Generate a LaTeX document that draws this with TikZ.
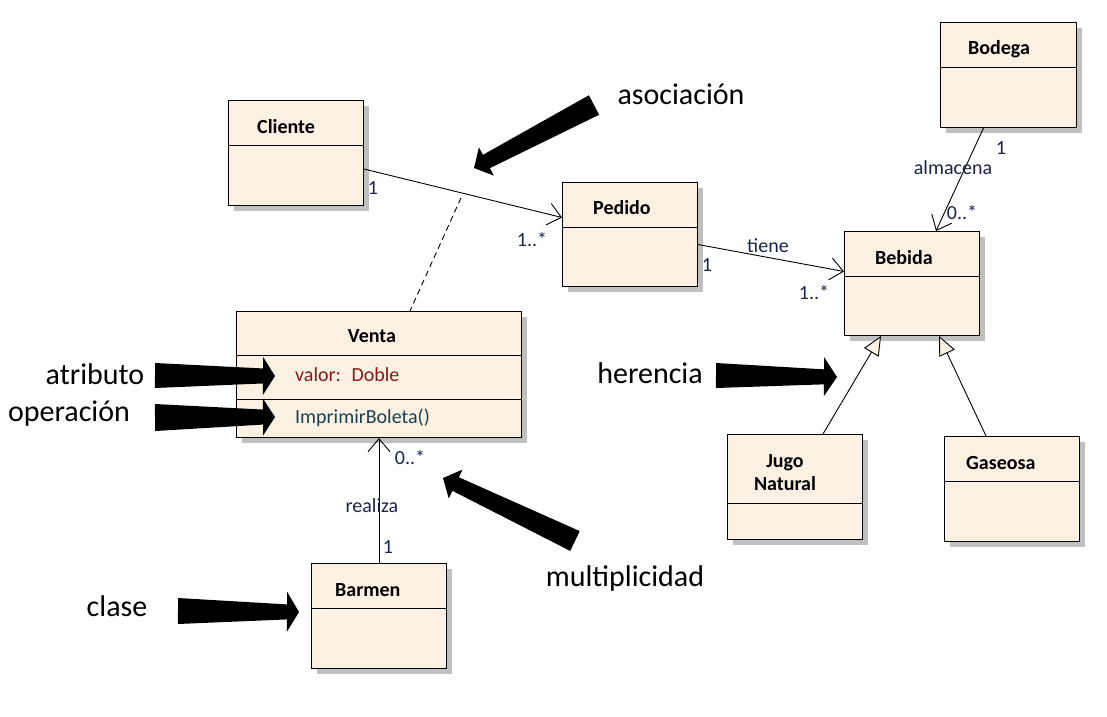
\documentclass[tikz,border=0pt]{standalone}
\usepackage{fontspec}
\setmainfont{Carlito}
\usetikzlibrary{arrows.meta, positioning, calc, shadows}

\definecolor{umlfill}{RGB}{251,241,227}
\definecolor{umlshadow}{RGB}{192,192,192}
\definecolor{umltext}{RGB}{25,35,75}
\definecolor{attrred}{RGB}{135,25,25}
\definecolor{opteal}{RGB}{25,65,80}

% fat black pointer: tail, tip, tail half width, head half width, head length
\newcommand{\fatarrow}[5]{%
  \coordinate (#1-neck) at ($(#2)!#5!(#1)$);
  \fill[black] ($(#1)!#3!90:(#2)$) -- ($(#1-neck)!7.5pt!90:(#2)$) -- ($(#1-neck)!#4!90:(#2)$)
    -- (#2) -- ($(#1-neck)!#4!-90:(#2)$) -- ($(#1-neck)!7.5pt!-90:(#2)$) -- ($(#1)!#3!-90:(#2)$) -- cycle;}

\begin{document}
\begin{tikzpicture}[x=1pt, y=-1pt,
      umlclass/.style={draw=black, line width=1pt, fill=umlfill, minimum width=135pt, minimum height=105pt, anchor=north west, inner sep=0pt,
        drop shadow={shadow xshift=5pt, shadow yshift=-5pt, fill=umlshadow, opacity=1}},
      classname/.style={font=\fontsize{20}{23}\selectfont\bfseries, anchor=west, inner sep=0pt},
      member/.style={font=\fontsize{20}{23}\selectfont, anchor=west, inner sep=0pt},
      mult/.style={font=\fontsize{20}{23}\selectfont, text=umltext, inner sep=0pt},
      callout/.style={font=\fontsize{30}{36}\selectfont, inner sep=0pt},
      divider/.style={line width=1pt},
      assoc/.style={line width=0.9pt, -{Straight Barb[length=13pt, width=22pt]}},
      inherit/.style={line width=0.9pt, -{Triangle[length=19pt, width=17pt, fill=umlfill]}}
    ]
      \useasboundingbox (0,0) rectangle (1107,716);

      % Classes
      \node[umlclass] (cliente) at (228,100) {};
      \node[classname] (clienteName) at (257,127) {Cliente};
      \draw[divider] ([yshift=-45pt]cliente.north west) -- ([yshift=-45pt]cliente.north east);

      \node[umlclass, minimum width=136pt] (bodega) at (940,22) {};
      \node[classname] (bodegaName) at (968,49) {Bodega};
      \draw[divider] ([yshift=-45pt]bodega.north west) -- ([yshift=-45pt]bodega.north east);

      \node[umlclass, minimum height=104pt] (pedido) at (562,182) {};
      \node[classname] (pedidoName) at (593,208) {Pedido};
      \draw[divider] ([yshift=-45pt]pedido.north west) -- ([yshift=-45pt]pedido.north east);

      \node[umlclass, minimum height=104pt] (bebida) at (844,231) {};
      \node[classname] (bebidaName) at (875,258) {Bebida};
      \draw[divider] ([yshift=-45pt]bebida.north west) -- ([yshift=-45pt]bebida.north east);

      \node[umlclass, minimum width=285pt, minimum height=126pt] (venta) at (236,311) {};
      \node[classname, anchor=center] (ventaName) at (372,336) {Venta};
      \draw[divider] ([yshift=-44pt]venta.north west) -- ([yshift=-44pt]venta.north east);
      \draw[divider] ([yshift=-88pt]venta.north west) -- ([yshift=-88pt]venta.north east);
      \node[member, text=attrred] (ventaAttr) at (295,375) {valor:~ Doble};
      \node[member, text=opteal] (ventaOp) at (295,418) {ImprimirBoleta()};

      \node[umlclass] (jugo) at (727,434) {};
      \node[classname, anchor=center, align=center] (jugoName) at (785,473) {Jugo\\Natural};
      \draw[divider] ([yshift=-69pt]jugo.north west) -- ([yshift=-69pt]jugo.north east);

      \node[umlclass] (gaseosa) at (944,436) {};
      \node[classname] (gaseosaName) at (966,463) {Gaseosa};
      \draw[divider] ([yshift=-45pt]gaseosa.north west) -- ([yshift=-45pt]gaseosa.north east);

      \node[umlclass] (barmen) at (311,563) {};
      \node[classname] (barmenName) at (335,590) {Barmen};
      \draw[divider] ([yshift=-45pt]barmen.north west) -- ([yshift=-45pt]barmen.north east);

      % Associations
      \draw[assoc] ([yshift=-16pt]cliente.east) -- ([yshift=17pt]pedido.west);
      \draw[assoc] ([yshift=-10pt]pedido.east) -- ([yshift=12pt]bebida.west);
      \draw[assoc] ([xshift=-25pt]bodega.south) -- ([xshift=24pt]bebida.north);
      \draw[assoc] (barmen.north) -- (venta.south);

      % Association class link
      \coordinate (assocMid) at ($([yshift=-16pt]cliente.east)!0.49!([yshift=17pt]pedido.west) + (0,5)$);
      \draw[dash pattern=on 6pt off 4pt, line width=0.9pt] (assocMid) -- ([xshift=31pt]venta.north);

      % Inheritance
      \draw[inherit] ([xshift=28pt]jugo.north) -- ([xshift=-31pt]bebida.south);
      \draw[inherit] ([xshift=-26pt]gaseosa.north) -- ([xshift=27pt]bebida.south);

      % Multiplicities and roles
      \node[mult] (clienteMult) at (373,188) {1};
      \node[mult] (pedidoMult) at (532,239) {1..*};
      \node[mult] (tieneLabel) at (768,246) {tiene};
      \node[mult] (pedidoMultB) at (707,265) {1};
      \node[mult] (bebidaMult) at (814,292) {1..*};
      \node[mult] (bodegaMult) at (1001,148) {1};
      \node[mult] (almacenaLabel) at (953,168) {almacena};
      \node[mult] (bebidaMultB) at (962,212) {0..*};
      \node[mult] (ventaMult) at (410,457) {0..*};
      \node[mult] (realizaLabel) at (372,506) {realiza};
      \node[mult] (barmenMult) at (388,547) {1};

      % Callouts
      \node[callout] (asociacion) at (681,94) {asociación};
      \node[callout] (atributo) at (95,374) {atributo};
      \node[callout] (operacion) at (69,414) {operación};
      \node[callout] (herencia) at (650,373) {herencia};
      \node[callout] (multiplicidad) at (625,578) {multiplicidad};
      \node[callout] (clase) at (117,606) {clase};

      \coordinate (asocTail) at (594,105);   \coordinate (asocTip) at (474,168);
      \coordinate (atribTail) at (155,375.5); \coordinate (atribTip) at (275,376);
      \coordinate (operTail) at (155,417.5);  \coordinate (operTip) at (275,417);
      \coordinate (herTail) at (716,375.5);   \coordinate (herTip) at (837,377);
      \coordinate (multTail) at (575,541);    \coordinate (multTip) at (443,478);
      \coordinate (claseTail) at (178,611);   \coordinate (claseTip) at (299,612);

      \fatarrow{asocTail}{asocTip}{11pt}{16pt}{14pt}
      \fatarrow{atribTail}{atribTip}{12.5pt}{19pt}{12pt}
      \fatarrow{operTail}{operTip}{13.5pt}{18.5pt}{12pt}
      \fatarrow{herTail}{herTip}{12.5pt}{19.5pt}{13pt}
      \fatarrow{multTail}{multTip}{11pt}{16pt}{14pt}
      \fatarrow{claseTail}{claseTip}{13pt}{20pt}{12pt}

    \end{tikzpicture}
\end{document}
